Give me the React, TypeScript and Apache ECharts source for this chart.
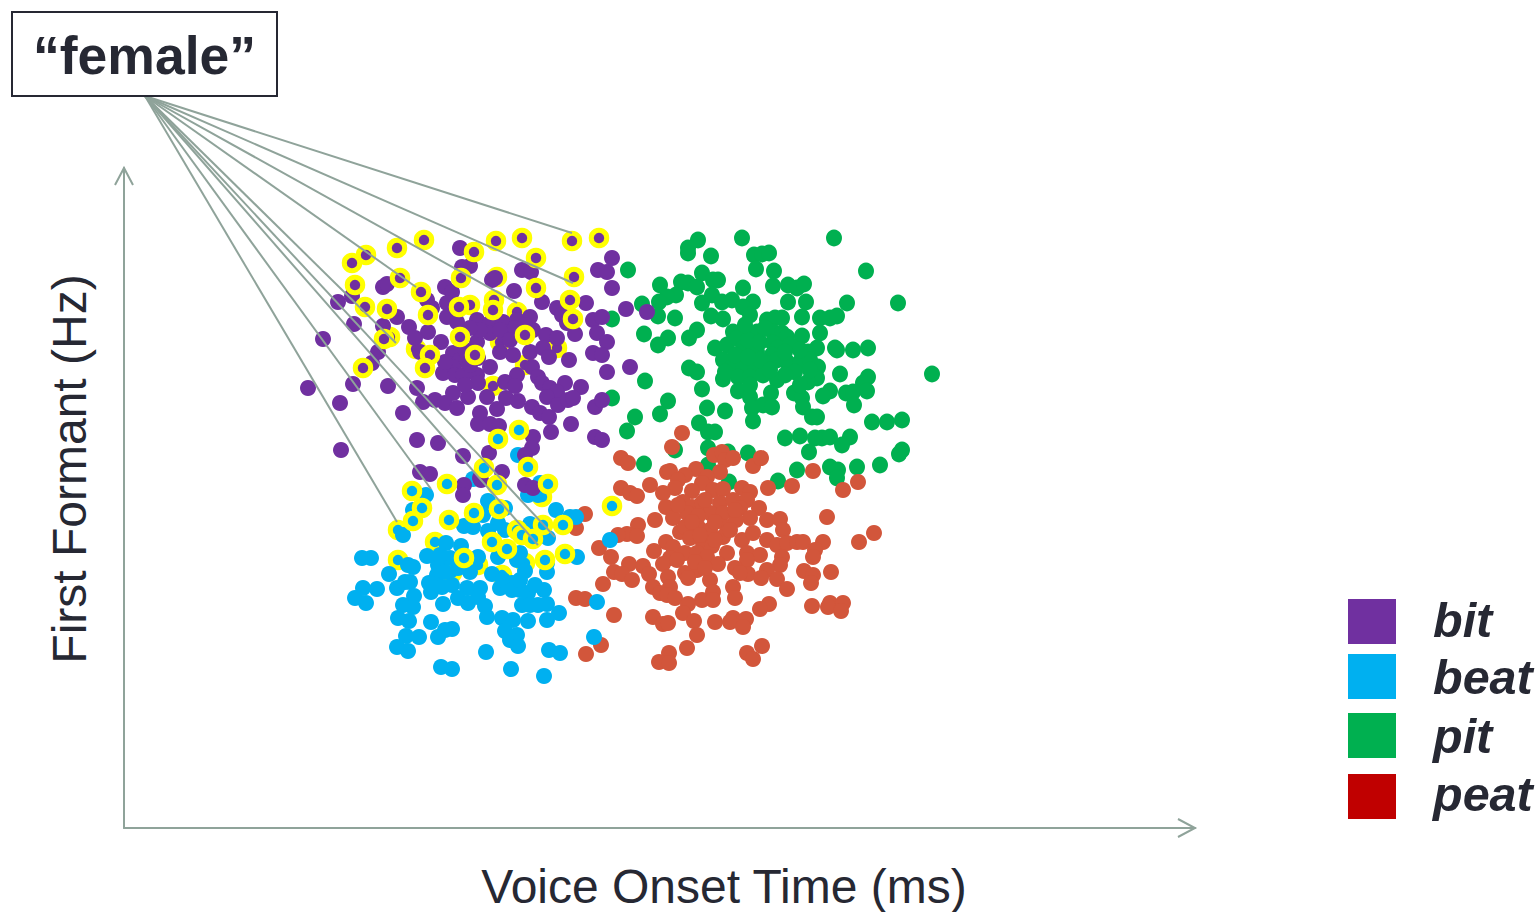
import React, { useEffect, useRef } from "react";
import * as echarts from "echarts";

const FONT = "'Liberation Sans', Arial, sans-serif";
const xTitle = "Voice Onset Time (ms)";
const yTitle = "First Formant (Hz)";
const boxLabel = "“female”";
const legendNames = ["bit", "beat", "pit", "peat"];
const legendColors = ["#7030A0", "#00B0F0", "#00B050", "#C00000"];

const bit = [
[460,248],[462,267],[470,266],[522,270],[531,272],[492,280],[495,278],[598,270],[607,272],[612,258],[612,288],[383,287],[387,284],[338,302],[352,296],[445,287],[452,292],[514,291],[542,302],[557,308],[562,315],[567,323],[586,303],[626,309],[647,312],[593,320],[602,317],[597,333],[607,342],[575,334],[354,324],[383,326],[397,317],[409,327],[428,332],[415,338],[323,339],[378,352],[372,363],[420,352],[441,342],[427,300],[432,308],[447,303],[447,317],[457,322],[477,320],[490,323],[503,322],[517,320],[530,317],[490,333],[505,335],[533,330],[546,335],[557,338],[477,342],[453,353],[460,360],[453,367],[443,373],[455,375],[463,375],[477,375],[490,367],[500,352],[513,355],[530,352],[543,348],[549,357],[569,360],[593,353],[602,355],[630,367],[607,372],[532,367],[538,377],[542,383],[517,375],[505,382],[515,386],[478,383],[487,397],[565,383],[581,387],[550,388],[557,392],[547,397],[417,388],[423,402],[435,400],[445,403],[457,408],[453,393],[468,397],[388,386],[353,384],[308,388],[340,403],[403,413],[506,398],[518,401],[497,409],[532,407],[540,413],[549,417],[558,405],[568,400],[573,398],[595,407],[602,400],[571,424],[480,413],[478,424],[490,424],[499,426],[551,432],[595,437],[602,440],[533,437],[532,448],[525,455],[417,440],[438,443],[341,450],[463,456],[489,453],[420,472],[430,474],[502,472],[480,478],[464,485],[463,495],[481,480],[525,485],[533,488],
[465,350],[470,365],[445,362],[478,358],[465,385],[480,330],[500,330],[515,328],[525,325],[470,328],[510,340],
];
const beat = [
[518,455],[473,479],[528,495],[538,495],[540,483],[426,495],[413,510],[403,535],[488,501],[483,515],[505,508],[556,510],[570,517],[576,517],[498,523],[464,526],[473,527],[488,531],[505,530],[530,524],[548,538],[446,543],[461,546],[610,540],[577,557],[427,556],[362,558],[371,558],[408,565],[413,567],[389,574],[438,565],[450,558],[437,575],[478,557],[470,572],[498,557],[520,553],[517,560],[525,571],[547,572],[547,563],[492,574],[363,588],[377,589],[355,598],[366,603],[397,588],[405,582],[410,582],[429,583],[431,592],[442,587],[452,585],[467,588],[480,588],[500,588],[503,580],[512,583],[512,590],[520,590],[528,593],[544,590],[414,596],[403,605],[413,607],[443,604],[458,598],[468,603],[478,597],[485,606],[522,605],[530,605],[538,605],[547,604],[398,618],[409,621],[431,622],[487,617],[502,618],[513,620],[528,621],[547,620],[559,613],[406,636],[419,637],[445,630],[452,629],[438,637],[505,631],[517,635],[510,640],[518,646],[397,647],[408,651],[486,652],[549,650],[560,653],[594,637],[597,602],[441,667],[452,669],[511,669],[544,676],
[445,572],[458,568],[440,555],[520,580],[535,585],
];
const pit = [
[698,240],[688,248],[688,253],[742,238],[834,238],[711,256],[754,255],[762,254],[769,253],[756,269],[774,271],[866,271],[702,273],[713,280],[718,280],[660,285],[681,282],[688,283],[697,287],[676,295],[667,297],[659,302],[743,288],[773,286],[788,285],[797,288],[804,284],[712,295],[702,303],[722,302],[732,300],[753,302],[788,302],[806,302],[847,303],[898,303],[642,304],[658,316],[675,318],[711,316],[723,319],[743,307],[750,315],[802,317],[820,318],[830,318],[837,316],[767,320],[775,318],[782,318],[697,330],[689,338],[644,334],[668,338],[658,345],[820,333],[802,336],[733,332],[743,330],[757,332],[773,332],[782,333],[787,337],[715,348],[727,345],[737,338],[743,348],[757,352],[773,343],[778,348],[772,355],[817,348],[808,352],[835,348],[837,350],[853,350],[868,348],[723,360],[732,367],[743,367],[755,367],[765,363],[777,360],[787,362],[800,362],[810,360],[818,367],[723,379],[738,377],[750,377],[763,375],[777,380],[817,378],[808,382],[840,374],[689,368],[697,372],[645,381],[932,374],[868,377],[863,383],[702,389],[738,391],[750,397],[771,393],[794,393],[802,398],[830,391],[823,396],[846,393],[853,392],[867,391],[668,401],[854,405],[707,408],[725,411],[752,408],[763,405],[772,407],[803,407],[812,417],[817,417],[753,421],[635,417],[660,414],[872,422],[887,422],[902,420],[699,423],[627,431],[708,432],[715,432],[785,438],[800,436],[815,438],[822,438],[830,437],[850,437],[842,445],[809,452],[902,450],[899,454],[708,448],[675,450],[748,453],[728,452],[644,464],[880,465],[830,467],[838,470],[837,478],[857,467],[797,470],[778,481],[708,465],[729,482],[628,270],[612,319],[612,398],
[748,340],[760,342],[790,345],[800,350],[760,360],[735,355],[785,352],[795,372],[785,375],[770,370],[748,357],[725,372],[750,385],[810,370],[800,385],[745,325],[765,328],
];
const peat = [
[682,433],[672,447],[621,458],[628,463],[714,455],[722,452],[725,460],[733,458],[753,466],[761,458],[720,472],[696,469],[667,472],[670,471],[685,475],[678,480],[707,477],[702,483],[650,485],[813,471],[858,482],[843,490],[792,486],[768,488],[621,488],[630,493],[637,496],[675,488],[663,493],[692,491],[713,490],[723,489],[742,488],[750,492],[747,500],[666,507],[683,502],[692,507],[702,503],[720,503],[733,500],[740,508],[759,508],[673,518],[687,513],[710,513],[723,513],[655,520],[585,514],[576,528],[750,518],[767,520],[780,519],[827,517],[874,533],[859,542],[638,525],[627,534],[637,536],[618,535],[680,532],[685,527],[698,527],[710,530],[727,527],[690,538],[723,537],[742,540],[753,533],[783,530],[767,540],[777,545],[787,543],[797,542],[803,542],[823,542],[815,550],[813,557],[599,548],[611,557],[666,542],[673,547],[654,551],[703,543],[712,546],[685,553],[697,553],[707,557],[670,558],[663,564],[677,560],[727,553],[718,564],[747,553],[760,555],[747,560],[782,557],[780,565],[629,564],[643,566],[614,572],[622,574],[632,580],[649,574],[685,573],[697,570],[688,578],[735,568],[748,574],[740,573],[767,570],[761,578],[777,579],[804,571],[813,575],[811,583],[831,572],[603,584],[576,598],[585,599],[614,615],[668,577],[670,587],[653,587],[660,593],[667,595],[675,598],[710,580],[713,592],[702,600],[713,600],[733,587],[735,598],[787,589],[688,604],[683,613],[769,604],[760,609],[812,606],[830,603],[828,607],[843,603],[841,611],[653,617],[663,624],[668,623],[694,621],[715,622],[733,618],[730,622],[746,619],[743,627],[697,635],[762,646],[747,653],[753,659],[687,648],[669,653],[659,662],[669,663],[601,645],[586,654],
[705,500],[715,522],[698,516],[736,520],[692,522],[700,535],[735,510],[730,530],[715,540],[695,562],[705,568],[678,505],
];
const bitRingTop = [
[352,263],[366,255],[397,248],[424,240],[496,241],[474,252],[522,238],[572,241],[599,238],[536,258],[574,277],[461,278],[400,278],[355,285],[536,288],[421,292],[570,300],[459,307],[365,307],[387,309],[493,310],[573,319],[428,315],[525,335],[460,337],[384,339],[430,355],[475,355],[425,368],[363,368],
];
const bitRingUnder = [[497,277],[494,300],[470,305],[517,312],[390,337],[500,342],[416,349],[557,348],[525,365],[493,386]];
const beatRingTop = [
[519,430],[498,439],[528,467],[484,468],[548,484],[497,485],[447,484],[412,491],[422,508],[413,521],[449,520],[474,513],[499,509],[612,506],[563,525],[543,525],[517,530],[522,535],[533,539],[492,542],[507,549],[565,554],[545,560],[464,558],
];
const beatRingUnder = [[542,497],[398,530],[435,542],[398,560],[478,565],[452,573],[525,563],[502,575]];
const lineStart = [145, 96];
const lineEnds = [[572,233],[573,283],[517,303],[416,287],[396,343],[397,522],[431,489],[538,545],[555,537]];

const DOT = { bit: "#7030A0", beat: "#00B0F0", pit: "#00B050", peat: "#D2563B" };
const AXIS = "#8FA39A";
const INK = "#262833";

function dots(name: string, data: number[][], color: string, z: number, size: number | number[] = 16) {
  return { name, type: "scatter", data, symbolSize: size, z, silent: true, itemStyle: { color, opacity: 1 } };
}
function rings(name: string, data: number[][], color: string, z: number) {
  return { name, type: "scatter", data, symbolSize: 15.5, z, silent: true, itemStyle: { color, borderColor: "#FFFF00", borderWidth: 5, opacity: 1 } };
}

const legendY = [599, 654, 713, 774];
const legendTextY = [620, 677, 736, 794];

export default function App() {
  const ref = useRef<HTMLDivElement>(null);
  useEffect(() => {
    const chart = echarts.init(ref.current!, null, { renderer: "svg" });
    chart.setOption({
      animation: false,
      backgroundColor: "#fff",
      grid: { left: 124, top: 168, width: 1071, height: 660, outerBoundsMode: "none" },
      xAxis: {
        type: "value", min: 124, max: 1195,
        splitLine: { show: false }, axisTick: { show: false }, axisLabel: { show: false },
        axisLine: { onZero: false, lineStyle: { color: AXIS, width: 2 } },
        name: xTitle, nameLocation: "middle", nameGap: 34,
        nameTextStyle: { fontFamily: FONT, fontSize: 48, color: INK, padding: [0, 0, 0, 129] },
      },
      yAxis: {
        type: "value", min: 168, max: 828, inverse: true,
        splitLine: { show: false }, axisTick: { show: false }, axisLabel: { show: false },
        axisLine: { onZero: false, lineStyle: { color: AXIS, width: 2 } },
        name: yTitle, nameLocation: "middle", nameGap: 31,
        nameTextStyle: { fontFamily: FONT, fontSize: 48, color: INK, padding: [0, 0, 0, 58] },
      },
      series: [
        rings("bit ring under", bitRingUnder, DOT.bit, 2),
        rings("beat ring under", beatRingUnder, DOT.beat, 2),
        dots("pit", pit, DOT.pit, 3, [16, 17]),
        dots("peat", peat, DOT.peat, 4),
        dots("beat", beat, DOT.beat, 5),
        dots("bit", bit, DOT.bit, 6),
        rings("beat ring", beatRingTop, DOT.beat, 7),
        rings("bit ring", bitRingTop, DOT.bit, 7),
        {
          type: "lines", coordinateSystem: "cartesian2d", clip: false, z: 8, silent: true,
          lineStyle: { color: AXIS, width: 2, opacity: 1, curveness: 0 },
          data: lineEnds.map((end) => ({ coords: [lineStart, end] })),
        },
      ],
      graphic: [
        { type: "rect", z: 10, shape: { x: 12, y: 12, width: 265, height: 84 }, style: { fill: "#fff", stroke: INK, lineWidth: 2 } },
        { type: "text", z: 11, x: 144.5, y: 55, style: { text: boxLabel, font: `bold 53.5px ${FONT}`, fill: INK, align: "center", verticalAlign: "middle" } },
        { type: "polyline", z: 10, shape: { points: [[115, 185], [124, 168], [133, 185]] }, style: { stroke: AXIS, lineWidth: 2, fill: "none" } },
        { type: "polyline", z: 10, shape: { points: [[1178, 819], [1195, 828], [1178, 837]] }, style: { stroke: AXIS, lineWidth: 2, fill: "none" } },
        ...legendNames.flatMap((label, i) => [
          { type: "rect", z: 10, shape: { x: 1348, y: legendY[i], width: 48, height: 45 }, style: { fill: legendColors[i] } },
          { type: "text", z: 10, x: 1433, y: legendTextY[i], style: { text: label, font: `italic bold 48.5px ${FONT}`, fill: INK, align: "left", verticalAlign: "middle" } },
        ]),
      ],
    });
    return () => chart.dispose();
  }, []);
  return <div ref={ref} style={{ position: "absolute", left: 0, top: 0, width: 1540, height: 912 }} />;
}
